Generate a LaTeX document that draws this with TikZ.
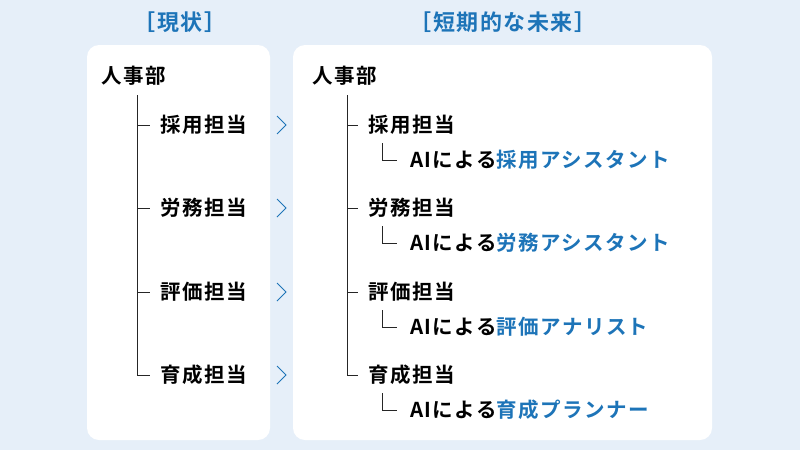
\documentclass[tikz,border=0pt]{standalone}
\usepackage{fontspec}
\newfontfamily\cjk[LetterSpace=7]{Noto Sans CJK JP Bold}
\definecolor{bgblue}{HTML}{E6EFF9}
\definecolor{aiblue}{HTML}{1D74B8}
\begin{document}
\begin{tikzpicture}[x=1pt,y=-1pt,
    panel/.style={fill=white, draw=none, rounded corners=12pt},
    label/.style={anchor=west, inner sep=0pt, font=\cjk\fontsize{20.5}{20.5}\selectfont},
    title/.style={inner sep=0pt, text=aiblue, font=\cjk\fontsize{22}{22}\selectfont},
    tree/.style={line width=1pt, draw=black!85},
    chev/.style={aiblue, line width=0.9pt}
  ]
  \fill[bgblue] (0,0) rectangle (800,450);
  \useasboundingbox (0,0) rectangle (800,450);
  \fill[panel] (87,45) rectangle (270,440);
  \fill[panel] (293,45) rectangle (712,440);
  \node[title] (tnow) at (180,22) {［現状］};
  \node[title] (tfut) at (503,22) {［短期的な未来］};
  % left tree
  \node[label] (hrL) at (101,76) {人事部};
  \coordinate (topL) at (137,95);
  \foreach \y/\t [count=\i] in {125/採用担当,208/労務担当,292/評価担当,375/育成担当} {
    \node[label] (L\i) at (160,\y) {\t};
    \coordinate (tL\i) at (137,\y);
    \draw[tree] (tL\i) -- (150,\y);
    \draw[chev] (277,\y-9) -- (286,\y) -- (277,\y+9);
  }
  \draw[tree] (topL) -- (tL4);
  % right tree
  \node[label] (hrR) at (312,76) {人事部};
  \coordinate (topR) at (347,95);
  \foreach \y/\t/\a [count=\i] in {125/採用担当/採用アシスタント,208/労務担当/労務アシスタント,292/評価担当/評価アナリスト,375/育成担当/育成プランナー} {
    \node[label] (R\i) at (368,\y) {\t};
    \coordinate (tR\i) at (347,\y);
    \draw[tree] (tR\i) -- (358,\y);
    \node[label] (A\i) at (410,\y+35) {AIによる\textcolor{aiblue}{\a}};
    \draw[tree] (382,\y+18) |- (397,\y+35);
  }
  \draw[tree] (topR) -- (tR4);
\end{tikzpicture}
\end{document}
